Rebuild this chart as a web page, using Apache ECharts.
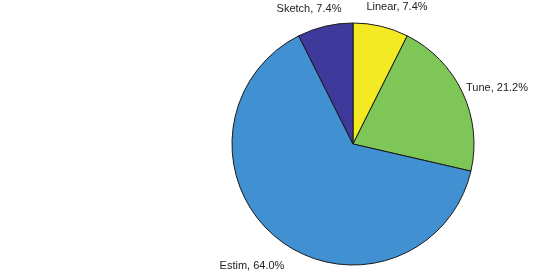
<!DOCTYPE html>
<html>
<head>
<meta charset="utf-8">
<script src="https://cdn.jsdelivr.net/npm/echarts@6/dist/echarts.min.js"></script>
<style>
  html, body { margin: 0; padding: 0; background: #ffffff; }
  #chart { width: 533px; height: 277px; }
</style>
</head>
<body>
<div id="chart"></div>
<script>
// ---- data ----
var categories = ['Linear', 'Tune', 'Estim', 'Sketch'];
var shares = [7.4, 21.2, 64.0, 7.4];

// ---- style / layout ----
var sliceColors = ['#f3ea24', '#7fc658', '#4090d2', '#3f399b'];
var pieCenter = [353, 144];
var pieRadius = 121;
// label text-centre offsets from the pie centre (px)
var labelOffsets = [[44, -137], [144, -56], [-101, 122], [-44, -135]];

var chart = echarts.init(document.getElementById('chart'), null, { renderer: 'canvas' });

var pieData = categories.map(function (name, i) {
  return { name: name, value: shares[i], itemStyle: { color: sliceColors[i] } };
});

chart.setOption({
  backgroundColor: '#ffffff',
  animation: false,
  series: [{
    type: 'pie',
    center: pieCenter,
    radius: pieRadius,
    startAngle: 90,
    clockwise: true,
    avoidLabelOverlap: false,
    data: pieData,
    itemStyle: { borderColor: '#1a1a1a', borderWidth: 1 },
    label: {
      show: true,
      position: 'outside',
      fontFamily: 'Liberation Sans, Arial, sans-serif',
      fontSize: 11,
      color: '#222222',
      formatter: function (p) { return p.name + ', ' + p.value.toFixed(1) + '%'; }
    },
    labelLine: { show: false },
    labelLayout: function (params) {
      var o = labelOffsets[params.dataIndex];
      return {
        x: pieCenter[0] + o[0],
        y: pieCenter[1] + o[1],
        align: 'center',
        verticalAlign: 'middle'
      };
    },
    emphasis: { disabled: true }
  }]
});
</script>
</body>
</html>
